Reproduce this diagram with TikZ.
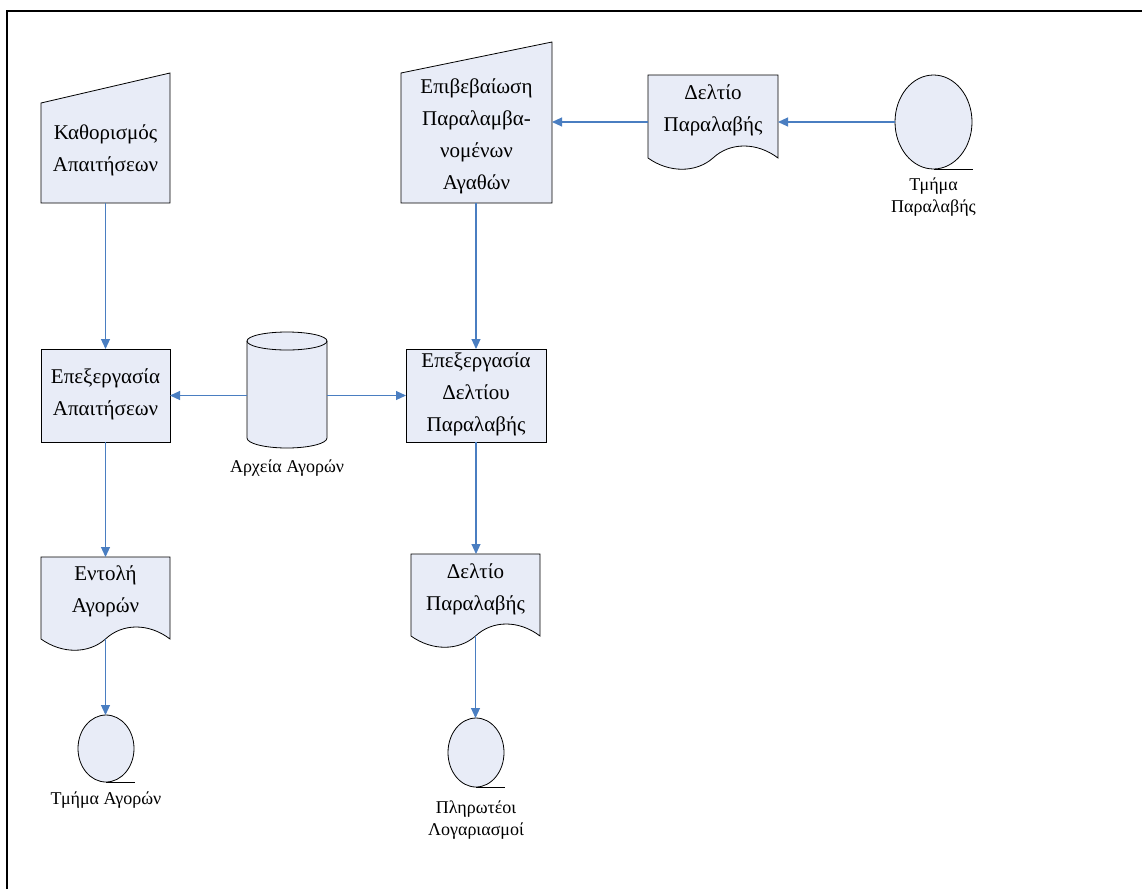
\documentclass[tikz,border=0pt]{standalone}
\usepackage{fontspec}
\setmainfont{Liberation Serif}
\usetikzlibrary{arrows.meta,shapes.geometric}
\definecolor{shapefill}{RGB}{232,236,247}
\definecolor{flowblue}{RGB}{74,126,193}
\begin{document}
\begin{tikzpicture}[x=1pt,y=-1pt,
  area/.style={draw=none, rectangle, inner sep=0, outer sep=0},
  outline/.style={draw=black, fill=shapefill, line width=0.8pt},
  procbox/.style={rectangle, draw=black, fill=shapefill, line width=0.8pt, inner sep=0, outer sep=0},
  terminal/.style={ellipse, draw=black, fill=shapefill, line width=0.8pt, inner sep=0, outer sep=0},
  caption/.style={font=\fontsize{21}{32}\selectfont, align=center, inner sep=0},
  tag/.style={font=\fontsize{18}{22}\selectfont, align=center, inner sep=0},
  flow/.style={draw=flowblue, line width=1.1pt, -{Triangle[length=10pt,width=9pt]}}]
\useasboundingbox (0,0) rectangle (1142,889);
% frame
\draw[line width=2.2pt] (7,889) -- (7,11) -- (1142,11);

% manual inputs
\node[area, minimum width=129, minimum height=130] (k1) at (105.5,138) {};
\draw[outline] (k1.south west) -- (k1.south east) -- (k1.north east) -- ([yshift=-30pt]k1.north west) -- cycle;
\node[area, minimum width=151, minimum height=161] (k2) at (476.5,122.5) {};
\draw[outline] (k2.south west) -- (k2.south east) -- (k2.north east) -- ([yshift=-31pt]k2.north west) -- cycle;

% processes
\node[procbox, minimum width=129, minimum height=93] (p1) at (105.5,395.5) {};
\node[procbox, minimum width=140, minimum height=93] (p2) at (476,395.5) {};

% documents
\node[area, minimum width=129, minimum height=82] (d1) at (105.5,598) {};
\draw[outline] (d1.south west) .. controls +(21,15) and +(-17,15) .. (d1.south) .. controls +(17,-16) and +(-21,-16) .. (d1.south east) -- (d1.north east) -- (d1.north west) -- cycle;
\node[area, minimum width=129, minimum height=82] (d2) at (475.5,595) {};
\draw[outline] (d2.south west) .. controls +(21,15) and +(-17,15) .. (d2.south) .. controls +(17,-16) and +(-21,-16) .. (d2.south east) -- (d2.north east) -- (d2.north west) -- cycle;
\node[area, minimum width=130, minimum height=83] (d3) at (713,116.5) {};
\draw[outline] (d3.south west) .. controls +(21,15) and +(-17,15) .. (d3.south) .. controls +(17,-16) and +(-21,-16) .. (d3.south east) -- (d3.north east) -- (d3.north west) -- cycle;

% storage
\node[area, minimum width=80, minimum height=97] (cyl) at (287,389.5) {};
\draw[outline] (cyl.north west) -- (cyl.south west) arc[start angle=180, end angle=360, x radius=40pt, y radius=10pt] -- (cyl.north east) arc[start angle=0, end angle=180, x radius=40pt, y radius=9pt] -- cycle;
\draw[line width=0.8pt] (cyl.north west) arc[start angle=180, end angle=360, x radius=40pt, y radius=9pt];

% terminals
\node[terminal, minimum width=56, minimum height=67] (c1) at (106,748.5) {};
\draw[line width=0.8pt] (c1.south) -- ++(29,0);
\node[terminal, minimum width=56, minimum height=69] (c2) at (476,752.5) {};
\draw[line width=0.8pt] (c2.south) -- ++(29,0);
\node[terminal, minimum width=77, minimum height=94] (c3) at (933.5,122) {};
\draw[line width=0.8pt] (c3.south) -- ++(39,0);

% connectors
\draw[flow] (k1.south) -- (k1.south |- p1.north);
\draw[flow] (p1.south) -- (p1.south |- d1.north);
\draw[flow] (d1.south) -- (d1.south |- c1.north);
\draw[flow] (k2.south -| p2.north) -- (p2.north);
\draw[flow] (p2.south) -- (p2.south |- d2.north);
\draw[flow] (d2.south) -- (d2.south |- c2.north);
\draw[flow] (cyl.west |- p1.east) -- (p1.east);
\draw[flow] (cyl.east |- p2.west) -- (p2.west);
\draw[flow] (c3.west) -- (c3.west -| d3.east);
\draw[flow] (d3.west |- c3.west) -- (k2.east |- c3.west);

% texts
\node[caption] (k1t) at (105.5,150) {Καθορισμός\\Απαιτήσεων};
\node[caption] (k2t) at (476.5,136) {Επιβεβαίωση\\Παραλαμβα-\\νομένων\\Αγαθών};
\node[caption] (p1t) at (105.5,394) {Επεξεργασία\\Απαιτήσεων};
\node[caption] (p2t) at (476,394) {Επεξεργασία\\Δελτίου\\Παραλαβής};
\node[caption] (d1t) at (105.5,591) {Εντολή\\Αγορών};
\node[caption] (d2t) at (475.5,589) {Δελτίο\\Παραλαβής};
\node[caption] (d3t) at (713,110) {Δελτίο\\Παραλαβής};
\node[tag] (cylt) at (287,468) {Αρχεία Αγορών};
\node[tag] (c1t) at (106,800) {Τμήμα Αγορών};
\node[tag] (c2t) at (476,820) {Πληρωτέοι\\Λογαριασμοί};
\node[tag] (c3t) at (933.5,197) {Τμήμα\\Παραλαβής};
\end{tikzpicture}
\end{document}
